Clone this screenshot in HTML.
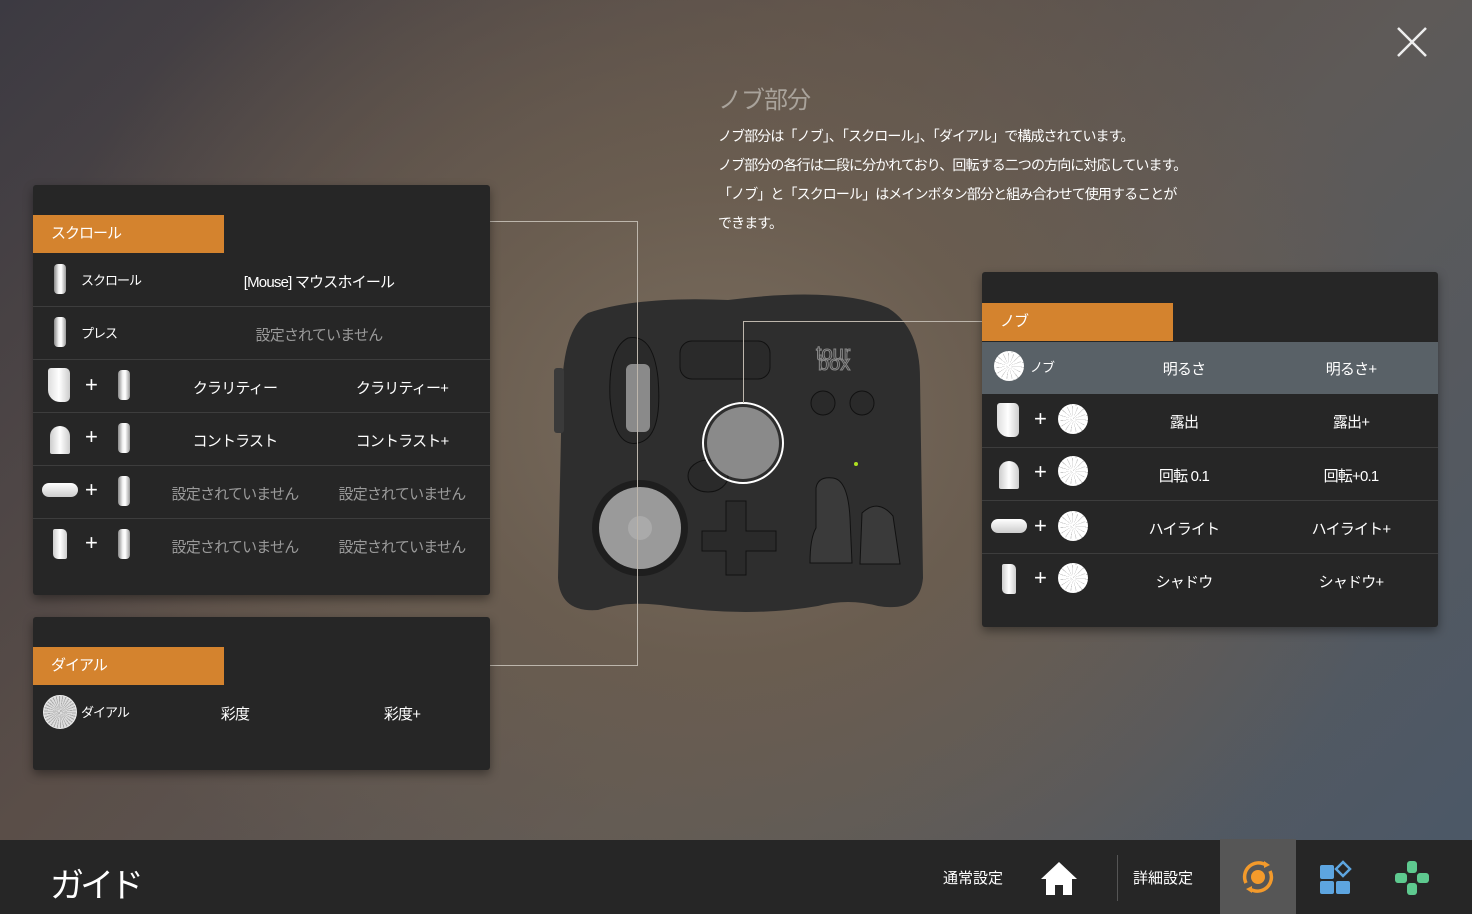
<!DOCTYPE html>
<html><head><meta charset="utf-8"><style>
*{margin:0;padding:0;box-sizing:border-box}
body{width:1472px;height:914px;overflow:hidden;position:relative;font-family:"Liberation Sans","Noto Sans CJK JP",sans-serif;
background:radial-gradient(ellipse 700px 600px at 720px 420px,#7a6d5e 0%,#6a5d50 40%,rgba(80,75,80,0) 100%),linear-gradient(135deg,#3c3a42 0%,#5a4e48 35%,#5e5a58 60%,#4a5868 100%);}
.a{position:absolute}
.panel{position:absolute;background:#262626;box-shadow:0 4px 10px rgba(0,0,0,.4);border-radius:3px}
.hd{position:absolute;background:#d4832e;color:#fff;font-size:15px;line-height:38px;padding-left:18px;height:38px;letter-spacing:-1px}
.sep{position:absolute;height:1px;background:#3d3d3d}
.t{position:absolute;color:#fff;font-size:15px;transform:translateX(-50%);white-space:nowrap;letter-spacing:-0.8px}
.g{color:#9a9a9a}
.s{position:absolute;color:#fff;font-size:13px;white-space:nowrap;letter-spacing:-1px}
.plus{position:absolute;color:#fff;font-size:22px;line-height:22px}
.sc{position:absolute;width:12px;height:30px;border-radius:4px;background:linear-gradient(90deg,#888,#f4f4f4 40%,#fff 60%,#999);}
.pd{position:absolute;width:22px;height:34px;background:linear-gradient(90deg,#ddd,#fff,#ccc);border-radius:3px 5px 5px 12px}
.dm{position:absolute;width:20px;height:28px;background:linear-gradient(90deg,#ccc,#fff,#ccc);border-radius:10px 10px 2px 2px}
.bar{position:absolute;width:36px;height:14px;background:linear-gradient(#fff,#ccc);border-radius:7px}
.tl{position:absolute;width:14px;height:30px;background:linear-gradient(90deg,#ccc,#fff,#ccc);border-radius:2px 5px 2px 5px}
.kn{position:absolute;width:30px;height:30px;border-radius:50%;background:repeating-conic-gradient(#fff 0 20deg,#ccc 20deg 24deg);border:2px dotted #fff}
.dial{position:absolute;width:34px;height:34px;border-radius:50%;background:repeating-conic-gradient(#ddd 0 8deg,#aaa 8deg 12deg);border:1px solid #eee}
.line{position:absolute;border-color:#bdb6ac;border-style:solid;border-width:0}
</style></head><body>

<svg class="a" style="left:1396px;top:26px" width="32" height="32"><path d="M2 2L30 30M30 2L2 30" stroke="#eee" stroke-width="2.5"/></svg>

<div class="a" style="left:718px;top:80px;color:#a9a39b;font-size:24px;letter-spacing:-1px">ノブ部分</div>
<div class="a" style="left:718px;top:122px;color:#fff;font-size:14px;line-height:29px;letter-spacing:-0.9px">ノブ部分は「ノブ」、「スクロール」、「ダイアル」で構成されています。<br>ノブ部分の各行は二段に分かれており、回転する二つの方向に対応しています。<br>「ノブ」と「スクロール」はメインボタン部分と組み合わせて使用することが<br>できます。</div>

<!-- device -->
<svg class="a" style="left:548px;top:288px" width="380" height="330" viewBox="0 0 380 330">
<path d="M40 25 Q90 8 180 12 Q290 -2 340 20 Q372 40 372 90 L375 290 Q372 325 330 318 Q300 310 270 318 Q200 330 120 318 Q80 312 50 322 Q12 325 10 290 L14 100 Q16 40 40 25Z" fill="#2e2e2e"/>
<rect x="6" y="80" width="10" height="65" rx="3" fill="#3a3a3a"/>
<path d="M80 50 Q60 60 62 110 Q66 160 90 155 Q115 150 110 90 Q105 45 80 50Z" fill="#2a2a2a" stroke="#111" stroke-width="1"/>
<rect x="78" y="76" width="24" height="68" rx="6" fill="#8a8a8a"/>
<rect x="132" y="53" width="90" height="38" rx="12" fill="#2a2a2a" stroke="#111"/>
<text x="268" y="72" font-size="20" fill="none" stroke="#888" stroke-width="1" font-family="Liberation Sans">tour</text>
<text x="270" y="82" font-size="20" fill="none" stroke="#888" stroke-width="1" font-family="Liberation Sans">box</text>
<circle cx="275" cy="115" r="12" fill="#2a2a2a" stroke="#111"/>
<circle cx="314" cy="115" r="12" fill="#2a2a2a" stroke="#111"/>
<ellipse cx="160" cy="188" rx="20" ry="16" fill="#2a2a2a" stroke="#111"/>
<circle cx="195" cy="155" r="36" fill="#8a8a8a"/>
<circle cx="195" cy="155" r="40" fill="none" stroke="#fff" stroke-width="2"/>
<circle cx="308" cy="176" r="2" fill="#aee020"/>
<circle cx="92" cy="240" r="48" fill="#1e1e1e"/>
<circle cx="92" cy="240" r="41" fill="#9a9a9a"/>
<circle cx="92" cy="240" r="12" fill="#aaa"/>
<path d="M178 213h20v30h30v20h-30v24h-20v-24h-24v-20h24z" fill="#2a2a2a" stroke="#111"/>
<path d="M268 200 Q270 188 285 190 Q300 192 302 230 L304 275 L262 275 Q262 250 268 240Z" fill="#3a3a3a" stroke="#111"/>
<path d="M314 225 Q330 210 345 228 L352 276 L312 276Z" fill="#3a3a3a" stroke="#111"/>
</svg>

<!-- connector lines (over device) -->
<div class="line" style="left:490px;top:221px;width:148px;height:445px;border-width:1.5px 1.5px 1.5px 0"></div>
<div class="line" style="left:743px;top:321px;width:240px;height:82px;border-width:1.5px 0 0 1.5px"></div>

<!-- left panel 1 -->
<div class="panel" style="left:33px;top:185px;width:457px;height:410px"></div>
<div class="hd" style="left:33px;top:215px;width:191px">スクロール</div>
<div class="sep" style="left:33px;top:306px;width:457px"></div>
<div class="sep" style="left:33px;top:359px;width:457px"></div>
<div class="sep" style="left:33px;top:412px;width:457px"></div>
<div class="sep" style="left:33px;top:465px;width:457px"></div>
<div class="sep" style="left:33px;top:518px;width:457px"></div>

<div class="sc" style="left:54px;top:264px"></div><div class="s" style="left:81px;top:270px">スクロール</div>
<div class="t" style="left:319px;top:271px">[Mouse] マウスホイール</div>
<div class="sc" style="left:54px;top:317px"></div><div class="s" style="left:81px;top:323px">プレス</div>
<div class="t g" style="left:319px;top:324px">設定されていません</div>

<div class="pd" style="left:48px;top:368px"></div><div class="plus" style="left:85px;top:374px">+</div><div class="sc" style="left:118px;top:370px"></div>
<div class="t" style="left:235px;top:377px">クラリティー</div><div class="t" style="left:402px;top:377px">クラリティー+</div>
<div class="dm" style="left:50px;top:426px"></div><div class="plus" style="left:85px;top:426px">+</div><div class="sc" style="left:118px;top:423px"></div>
<div class="t" style="left:235px;top:430px">コントラスト</div><div class="t" style="left:402px;top:430px">コントラスト+</div>
<div class="bar" style="left:42px;top:483px"></div><div class="plus" style="left:85px;top:479px">+</div><div class="sc" style="left:118px;top:476px"></div>
<div class="t g" style="left:235px;top:483px">設定されていません</div><div class="t g" style="left:402px;top:483px">設定されていません</div>
<div class="tl" style="left:53px;top:529px"></div><div class="plus" style="left:85px;top:532px">+</div><div class="sc" style="left:118px;top:529px"></div>
<div class="t g" style="left:235px;top:536px">設定されていません</div><div class="t g" style="left:402px;top:536px">設定されていません</div>

<!-- left panel 2 -->
<div class="panel" style="left:33px;top:617px;width:457px;height:153px"></div>
<div class="hd" style="left:33px;top:647px;width:191px">ダイアル</div>
<div class="dial" style="left:43px;top:695px"></div><div class="s" style="left:81px;top:702px">ダイアル</div>
<div class="t" style="left:235px;top:703px">彩度</div><div class="t" style="left:402px;top:703px">彩度+</div>

<!-- right panel -->
<div class="panel" style="left:982px;top:272px;width:456px;height:355px"></div>
<div class="hd" style="left:982px;top:303px;width:191px">ノブ</div>
<div class="a" style="left:982px;top:342px;width:456px;height:52px;background:#596167"></div>
<div class="sep" style="left:982px;top:447px;width:456px"></div>
<div class="sep" style="left:982px;top:500px;width:456px"></div>
<div class="sep" style="left:982px;top:553px;width:456px"></div>

<div class="kn" style="left:994px;top:351px"></div><div class="s" style="left:1030px;top:357px">ノブ</div>
<div class="t" style="left:1184px;top:358px">明るさ</div><div class="t" style="left:1351px;top:358px">明るさ+</div>
<div class="pd" style="left:997px;top:403px"></div><div class="plus" style="left:1034px;top:408px">+</div><div class="kn" style="left:1058px;top:404px"></div>
<div class="t" style="left:1184px;top:411px">露出</div><div class="t" style="left:1351px;top:411px">露出+</div>
<div class="dm" style="left:999px;top:461px"></div><div class="plus" style="left:1034px;top:461px">+</div><div class="kn" style="left:1058px;top:456px"></div>
<div class="t" style="left:1184px;top:465px">回転 0.1</div><div class="t" style="left:1351px;top:465px">回転+0.1</div>
<div class="bar" style="left:991px;top:519px"></div><div class="plus" style="left:1034px;top:515px">+</div><div class="kn" style="left:1058px;top:511px"></div>
<div class="t" style="left:1184px;top:518px">ハイライト</div><div class="t" style="left:1351px;top:518px">ハイライト+</div>
<div class="tl" style="left:1002px;top:564px"></div><div class="plus" style="left:1034px;top:567px">+</div><div class="kn" style="left:1058px;top:563px"></div>
<div class="t" style="left:1184px;top:571px">シャドウ</div><div class="t" style="left:1351px;top:571px">シャドウ+</div>

<!-- bottom bar -->
<div class="a" style="left:0;top:840px;width:1472px;height:74px;background:#262626"></div>
<div class="a" style="left:50px;top:858px;color:#fff;font-size:34px;letter-spacing:-4px">ガイド</div>
<div class="a" style="left:943px;top:867px;color:#fff;font-size:15px">通常設定</div>
<svg class="a" style="left:1040px;top:860px" width="38" height="36"><path d="M19 2L37 19H32V35H23V25H15V35H6V19H1Z" fill="#fff"/></svg>
<div class="a" style="left:1117px;top:855px;width:1px;height:46px;background:#555"></div>
<div class="a" style="left:1133px;top:867px;color:#fff;font-size:15px">詳細設定</div>
<div class="a" style="left:1220px;top:839px;width:76px;height:75px;background:#565656"></div>
<svg class="a" style="left:1238px;top:857px" width="40" height="40"><circle cx="20" cy="20" r="7" fill="#f39a2b"/><path d="M8 26A14 14 0 0 1 28 8" stroke="#f39a2b" stroke-width="3.5" fill="none"/><path d="M32 14A14 14 0 0 1 12 32" stroke="#f39a2b" stroke-width="3.5" fill="none"/><path d="M26 4l6 4-6 3z M14 36l-6-4 6-3z" fill="#f39a2b"/></svg>
<svg class="a" style="left:1318px;top:860px" width="36" height="36"><rect x="2" y="5" width="14" height="14" rx="2" fill="#5da5e0"/><rect x="2" y="21" width="14" height="13" rx="2" fill="#5da5e0"/><rect x="18" y="21" width="14" height="13" rx="2" fill="#5da5e0"/><path d="M25 2l7 7-7 7-7-7z" fill="none" stroke="#5da5e0" stroke-width="2.5"/></svg>
<svg class="a" style="left:1394px;top:860px" width="36" height="36"><rect x="13" y="1" width="10" height="12" rx="3" fill="#5ec98f"/><rect x="13" y="23" width="10" height="12" rx="3" fill="#5ec98f"/><rect x="1" y="13" width="12" height="10" rx="3" fill="#5ec98f"/><rect x="23" y="13" width="12" height="10" rx="3" fill="#5ec98f"/></svg>
</body></html>
